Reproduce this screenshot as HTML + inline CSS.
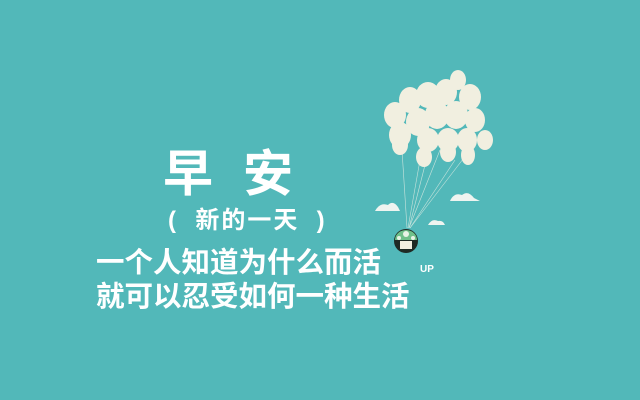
<!DOCTYPE html>
<html><head><meta charset="utf-8"><style>
body{margin:0}
#c{position:relative;width:640px;height:400px;background:#52b8b9;overflow:hidden;font-family:"Liberation Sans","Noto Sans CJK SC",sans-serif;color:#fff}
.t{position:absolute;white-space:nowrap;font-weight:bold}
</style></head><body>
<div id="c">
<div class="t" style="left:163px;top:134px;font-size:50px;letter-spacing:30px">早安</div>
<div class="t" style="left:168px;top:200px;font-size:24px;letter-spacing:2px">(&nbsp;&nbsp;新的一天&nbsp;&nbsp;)</div>
<div class="t" style="left:96px;top:240px;font-size:28.5px;letter-spacing:0px">一个人知道为什么而活</div>
<div class="t" style="left:96px;top:274px;font-size:28.5px;letter-spacing:0px">就可以忍受如何一种生活</div>
<div class="t" style="left:420px;top:264px;font-size:10px">UP</div>
<svg width="640" height="400" style="position:absolute;left:0;top:0">
<g stroke="#e8efe6" stroke-width="0.6" opacity="0.8">
<line x1="407" y1="228" x2="402" y2="150"/><line x1="408" y1="228" x2="420" y2="160"/><line x1="409" y1="228" x2="440" y2="150"/><line x1="410" y1="228" x2="455" y2="160"/><line x1="410" y1="228" x2="470" y2="150"/><line x1="409" y1="228" x2="425" y2="165"/>
</g>
<g fill="#f1efe0">
<ellipse cx="395" cy="115" rx="11" ry="13"/><ellipse cx="410" cy="100" rx="11" ry="13"/><ellipse cx="428" cy="95" rx="12" ry="13"/><ellipse cx="446" cy="92" rx="11" ry="13"/><ellipse cx="458" cy="80" rx="8" ry="10"/>
<ellipse cx="470" cy="97" rx="11" ry="13"/><ellipse cx="400" cy="135" rx="11" ry="13"/><ellipse cx="418" cy="122" rx="12" ry="14"/><ellipse cx="437" cy="115" rx="12" ry="14"/><ellipse cx="456" cy="115" rx="12" ry="14"/>
<ellipse cx="475" cy="120" rx="10" ry="12"/><ellipse cx="485" cy="140" rx="8" ry="10"/><ellipse cx="467" cy="140" rx="10" ry="12"/><ellipse cx="448" cy="140" rx="11" ry="12"/><ellipse cx="428" cy="140" rx="11" ry="12"/>
<ellipse cx="400" cy="145" rx="8" ry="10"/><ellipse cx="424" cy="157" rx="8" ry="10"/><ellipse cx="448" cy="152" rx="8" ry="10"/><ellipse cx="468" cy="155" rx="7" ry="10"/>
</g>
<g fill="#eef4f0">
<path d="M375 211 Q380 202 388 205 Q393 200 398 207 L400 211 Z"/>
<path d="M450 201 Q454 192 462 195 Q468 190 474 198 L480 201 Z"/>
<path d="M428 225 Q432 218 438 221 Q443 220 445 225 Z"/>
</g>
<g>
<circle cx="406" cy="241" r="12" fill="#1f2a24"/>
<path d="M395 240 A11 10 0 0 1 417 240 Z" fill="#6fc08a"/>
<circle cx="406" cy="234" r="3" fill="#e8f3e6"/><circle cx="399" cy="238" r="2" fill="#e8f3e6"/><circle cx="413" cy="238" r="2" fill="#e8f3e6"/>
<rect x="400" y="241" width="12" height="8" fill="#f3efe0"/>
</g>
</svg>
</div>
</body></html>
